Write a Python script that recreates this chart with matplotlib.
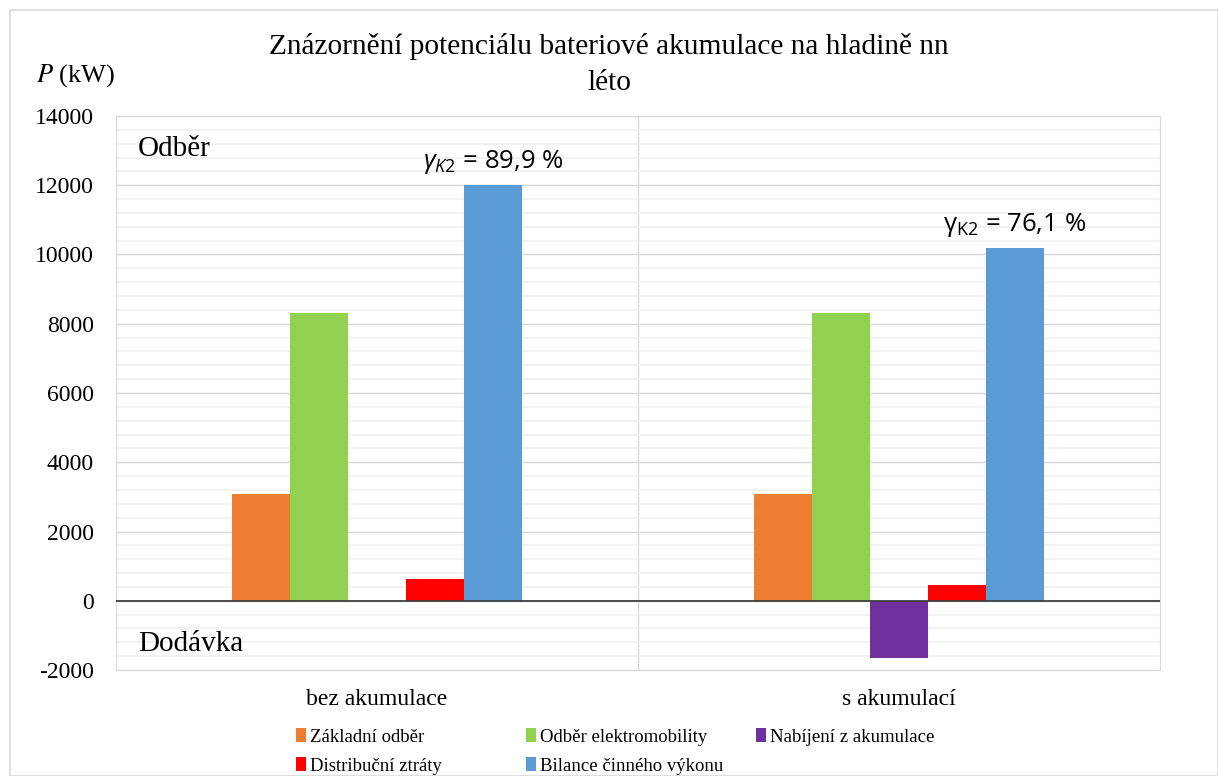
import numpy as np
import matplotlib.pyplot as plt
from matplotlib.patches import Rectangle
from matplotlib.ticker import MultipleLocator

plt.rcParams['font.family'] = ['Liberation Serif', 'DejaVu Serif']
plt.rcParams['mathtext.fontset'] = 'custom'
plt.rcParams['mathtext.rm'] = 'Open Sans'
plt.rcParams['mathtext.it'] = 'Open Sans:italic'
plt.rcParams['axes.unicode_minus'] = False

categories = ['bez akumulace', 's akumulací']
series = ['Základní odběr', 'Odběr elektromobility', 'Nabíjení z akumulace',
          'Distribuční ztráty', 'Bilance činného výkonu']
values = [
    [3080, 3080],    # Základní odběr
    [8300, 8300],    # Odběr elektromobility
    [0, -1650],      # Nabíjení z akumulace
    [620, 460],      # Distribuční ztráty
    [12000, 10200],  # Bilance činného výkonu
]
colors = ['#ED7D31', '#92D050', '#7030A0', '#FF0000', '#5B9BD5']
gamma_labels = [r'$\gamma_{K2}$ = 89,9 %', r'$\mathrm{\gamma}_{\mathrm{K2}}$ = 76,1 %']

W, H = 1218, 776
fig = plt.figure(figsize=(W / 100, H / 100), dpi=100)
fig.patches.append(Rectangle((10 / W, 0), 1 - 10 / W, 1 - 10 / H,
                             transform=fig.transFigure, fill=False,
                             edgecolor='#d9d9d9', linewidth=1.2))
ax = fig.add_axes([116 / W, 1 - 670 / H, 1044 / W, 554 / H])

x = np.arange(len(categories))
w = 0.111
handles = []
for i, (name, vals, c) in enumerate(zip(series, values, colors)):
    b = ax.bar(x + (i - 2) * w, vals, width=w, color=c, label=name, zorder=3)
    handles.append(b)

ax.set_xlim(-0.5, 1.5)
ax.set_ylim(-2000, 14000)
ax.yaxis.set_major_locator(MultipleLocator(2000))
ax.yaxis.set_minor_locator(MultipleLocator(400))
ax.grid(which='minor', axis='y', color='#f0f0f0', linewidth=1.2, zorder=0)
ax.grid(which='major', axis='y', color='#d9d9d9', linewidth=1.0, zorder=0)
ax.axvline(0.5, color='#d9d9d9', linewidth=1.0, zorder=0)
ax.axhline(0, color='#404040', linewidth=1.3, zorder=4)
ax.set_xticks(x)
ax.set_xticklabels(categories, fontsize=17)
ax.tick_params(axis='y', labelsize=17, length=0, pad=16)
ax.tick_params(axis='x', length=0, pad=14)
ax.tick_params(which='minor', length=0)
for s in ax.spines.values():
    s.set_color('#d9d9d9')

ax.text(0.021, 0.94, 'Odběr', transform=ax.transAxes, fontsize=21, va='center')
ax.text(0.021, 0.047, 'Dodávka', transform=ax.transAxes, fontsize=21, va='center')

for xi, lab, top in zip(x, gamma_labels, values[4]):
    ax.text(xi + 2 * w, top + 260, lab, ha='center', va='bottom', fontsize=18.5,
            family='Open Sans')

fig.text(0.5, 1 - 65 / H, 'Znázornění potenciálu bateriové akumulace na hladině nn\nléto',
         ha='center', va='center', fontsize=21.2, linespacing=1.5)
fig.text(36 / W, 1 - 76 / H, r'$P$ (kW)', fontsize=19, va='center',
         math_fontfamily='stix')

# one legend per column, like the Excel layout
cols = [[0, 3], [1, 4], [2]]
col_x = [296, 526, 756]
for idx, cx in zip(cols, col_x):
    fig.legend([handles[k] for k in idx], [series[k] for k in idx],
               loc='upper left', bbox_to_anchor=(cx / W, 1 - 728 / H),
               frameon=False, fontsize=13.5, handlelength=0.55, handleheight=0.8,
               handletextpad=0.2, labelspacing=0.6, borderpad=0, borderaxespad=0)

fig.savefig('out.png', dpi=100)
